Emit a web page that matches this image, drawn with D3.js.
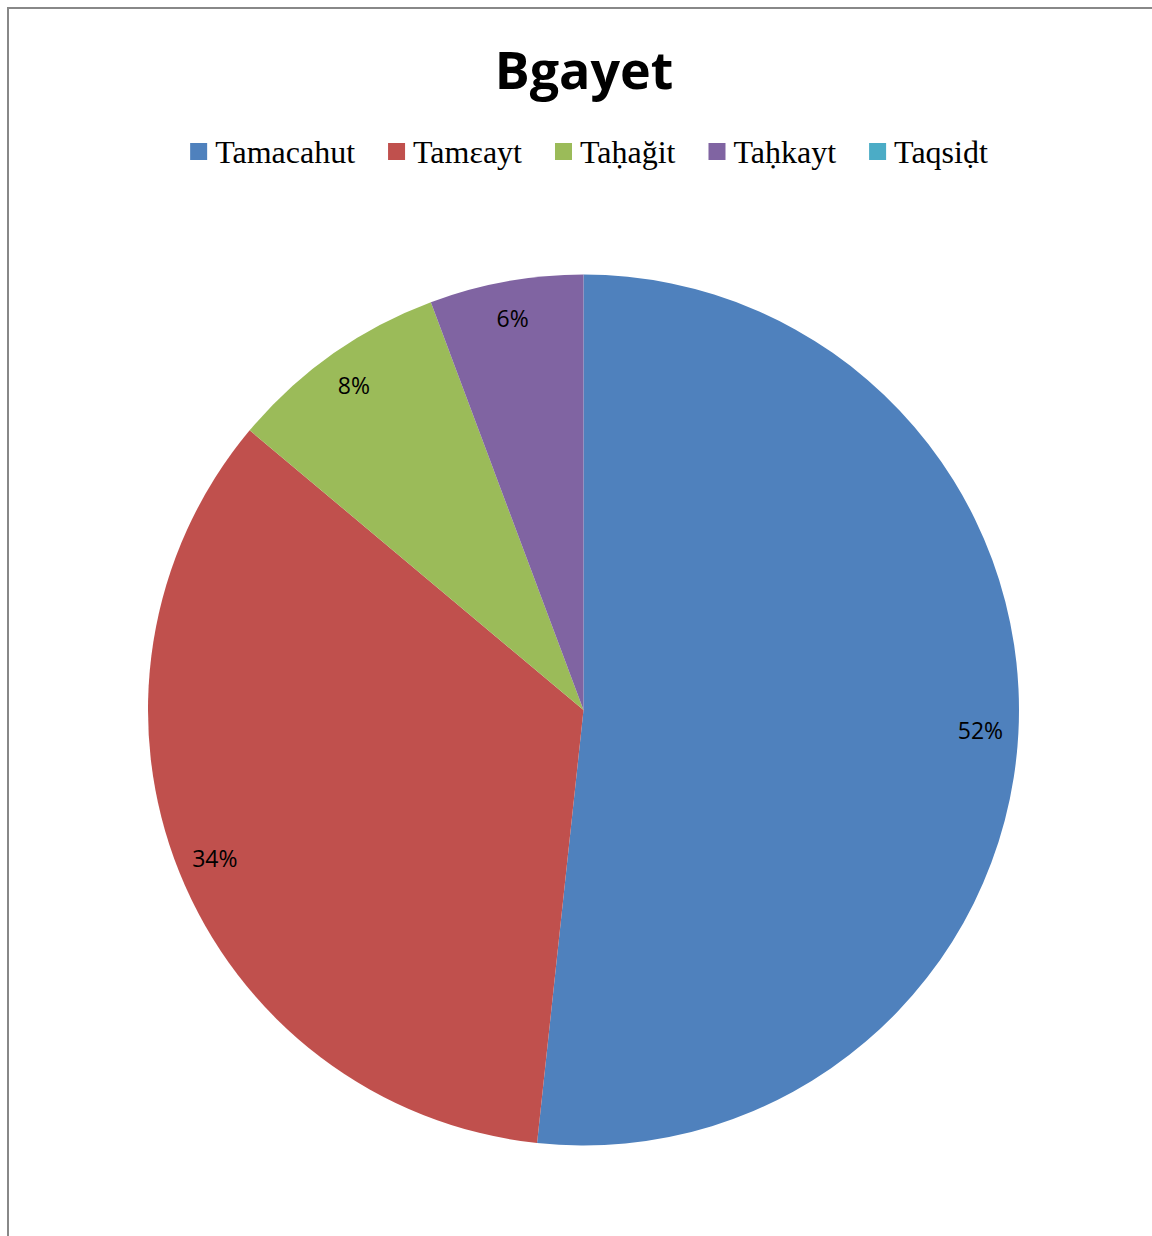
<!DOCTYPE html>
<meta charset="utf-8">
<style>
	body { margin: 0; background: #fff; }
	.title { font: bold 52px "Open Sans", sans-serif; }
	.legend text { font: 32px "Liberation Serif", "Times New Roman", serif; }
	.lbl { font: 23px "Open Sans", sans-serif; }
</style>
<head>
	<script src="https://d3js.org/d3.v7.min.js"></script>
</head>
<body>
	<svg width="1152" height="1236"></svg>
</body>
<script>
var categories = ["Tamacahut", "Tamεayt", "Taḥağit", "Taḥkayt", "Taqsiḍt"];
var values = [51.7, 34.4, 8.2, 5.7, 0];
var colors = ["#4F81BD", "#C0504D", "#9BBB59", "#8064A2", "#4BACC6"];

var svg = d3.select("svg");
var cx = 583.5, cy = 710, r = 435.5;

// chart frame (only left and top edges are visible)
svg.append("path")
	.attr("d", "M8,1240V8H1160")
	.attr("fill", "none")
	.attr("stroke", "#888")
	.attr("stroke-width", 2);

svg.append("text")
	.attr("class", "title")
	.attr("x", 584).attr("y", 89)
	.attr("text-anchor", "middle")
	.text("Bgayet");

var data = categories.map(function(c, i) { return {name: c, value: values[i], color: colors[i]}; });
var total = d3.sum(values);

var pie = d3.pie().sort(null).value(function(d) { return d.value; });
var arc = d3.arc().innerRadius(0).outerRadius(r);
var lblArc = d3.arc().innerRadius(r - 38).outerRadius(r - 38);

var g = svg.append("g").attr("transform", "translate(" + cx + "," + cy + ")");
var arcs = pie(data);

g.selectAll("path")
	.data(arcs)
	.enter().append("path")
	.attr("d", arc)
	.attr("fill", function(d) { return d.data.color; });

var fmt = d3.format(".0%");
g.selectAll(".lbl")
	.data(arcs.filter(function(d) { return d.data.value > 0; }))
	.enter().append("text")
	.attr("class", "lbl")
	.attr("transform", function(d) { return "translate(" + lblArc.centroid(d) + ")"; })
	.attr("text-anchor", "middle")
	.attr("dy", "0.35em")
	.text(function(d) { return fmt(d.data.value / total); });

// legend, laid out left to right and centred
var legend = svg.append("g").attr("class", "legend");
var items = legend.selectAll("g")
	.data(data)
	.enter().append("g");
items.append("rect")
	.attr("width", 17).attr("height", 17)
	.attr("y", -9)
	.attr("fill", function(d) { return d.color; });
items.append("text")
	.attr("x", 25)
	.attr("dy", "0.33em")
	.text(function(d) { return d.name; });

var x = 0;
items.each(function() {
	var w = 25 + this.querySelector("text").getComputedTextLength();
	d3.select(this).attr("transform", "translate(" + x + ",0)");
	x += w + 33;
});
x -= 33;
legend.attr("transform", "translate(" + (589 - x / 2) + ",152)");
</script>
